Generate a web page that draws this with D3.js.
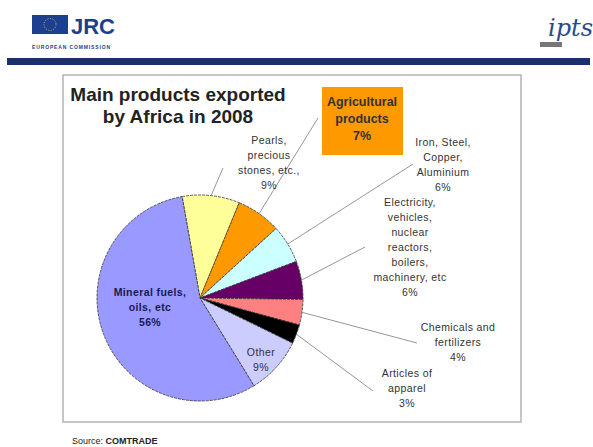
<!DOCTYPE html>
<html>
<head>
<meta charset="utf-8">
<script src="https://cdnjs.cloudflare.com/ajax/libs/d3/7.8.5/d3.min.js"></script>
<style>
  body { margin: 0; background: #ffffff; }
  svg { display: block; font-family: "Liberation Sans", Arial, sans-serif; }
</style>
</head>
<body>
<div id="grafico"></div>
<script>
// dados (clockwise, starting at 12 o'clock)
var categorias = ["Pearls, precious stones, etc.", "Agricultural products", "Iron, Steel, Copper, Aluminium",
                  "Electricity, vehicles, nuclear reactors, boilers, machinery, etc", "Chemicals and fertilizers",
                  "Articles of apparel", "Other", "Mineral fuels, oils, etc"];
var percentuais = [9, 7, 6, 6, 4, 3, 9, 56];
var rotulos = [
  ["Pearls,", "precious", "stones, etc.,", "9%"],
  ["Agricultural", "products", "7%"],
  ["Iron, Steel,", "Copper,", "Aluminium", "6%"],
  ["Electricity,", "vehicles,", "nuclear", "reactors,", "boilers,", "machinery, etc", "6%"],
  ["Chemicals and", "fertilizers", "4%"],
  ["Articles of", "apparel", "3%"],
  ["Other", "9%"],
  ["Mineral fuels,", "oils, etc", "56%"]
];
var cores = ["#ffff99", "#ff9900", "#ccffff", "#660066", "#ff8080", "#000000", "#ccccff", "#9999ff"];
var titulo = ["Main products exported", "by Africa in 2008"];
var fonte = "COMTRADE";

// layout dos rotulos: [x centro, y primeira linha, x da linha guia, y da linha guia]
var layout_rotulos = [
  [269, 144, 223, 168],
  [362, 106, 318, 118],
  [443, 146, 413, 164],
  [410, 206, 365, 247],
  [458, 331, 417, 343],
  [407, 377, 373, 391],
  [261, 356, null, null],
  [150, 296, null, null]
];

var width = 593;
var height = 447;
var cx = 200, cy = 298, raio = 103;

var svg = d3.select("#grafico")
            .append("svg")
            .attr("width", width)
            .attr("height", height);

// cabecalho
svg.append("rect")
   .attr("x", 32).attr("y", 15)
   .attr("width", 36).attr("height", 19)
   .style("fill", "#1d3f8f");

svg.append("circle")
   .attr("cx", 50).attr("cy", 24.5).attr("r", 6)
   .style("fill", "none")
   .style("stroke", "#e8d35a")
   .style("stroke-width", 0.8)
   .style("stroke-dasharray", "1,1.5");

svg.append("text")
   .attr("x", 71).attr("y", 34)
   .style("font-size", "22px")
   .style("font-weight", "bold")
   .style("fill", "#1d3f8f")
   .text("JRC");

svg.append("text")
   .attr("x", 32).attr("y", 49)
   .attr("textLength", 78)
   .style("font-size", "5px")
   .style("font-weight", "bold")
   .style("fill", "#1d3f8f")
   .text("EUROPEAN COMMISSION");

svg.append("rect")
   .attr("x", 7).attr("y", 58)
   .attr("width", 583).attr("height", 7)
   .style("fill", "#1b2f70");

svg.append("text")
   .attr("x", 548).attr("y", 36)
   .style("font-family", "'DejaVu Serif', serif")
   .style("font-style", "italic")
   .style("font-size", "24px")
   .style("fill", "#2a4a8a")
   .text("ipts");

svg.append("rect")
   .attr("x", 540).attr("y", 42)
   .attr("width", 22).attr("height", 5)
   .style("fill", "#777777");

// caixa do grafico
svg.append("rect")
   .attr("x", 63).attr("y", 75)
   .attr("width", 458).attr("height", 347)
   .style("fill", "#ffffff")
   .style("stroke", "#b3b3b3")
   .style("stroke-width", 1.5);

svg.append("text")
   .attr("x", 178).attr("y", 101)
   .attr("text-anchor", "middle")
   .style("font-size", "19px")
   .style("font-weight", "bold")
   .style("fill", "#222222")
   .selectAll("tspan")
   .data(titulo)
   .enter()
   .append("tspan")
   .attr("x", 178)
   .attr("dy", function(d, i){ return i == 0 ? 0 : 22; })
   .text(function(d){ return d; });

// pizza
var pie = d3.pie()
            .sort(null)
            .startAngle(-10 * Math.PI / 180)
            .endAngle(350 * Math.PI / 180);

var arcos = pie(percentuais);

var arc = d3.arc()
            .innerRadius(0)
            .outerRadius(raio);

var borda = d3.arc()
              .innerRadius(raio)
              .outerRadius(raio);

var g = svg.append("g")
           .attr("transform", "translate(" + cx + "," + cy + ")");

g.selectAll("path")
 .data(arcos)
 .enter()
 .append("path")
 .attr("d", arc)
 .style("fill", function(d, i){ return cores[i]; })
 .style("stroke", "#333333")
 .style("stroke-width", 0.8)
 .style("stroke-dasharray", "3,1");

// linhas guia
g.selectAll("line.guia")
 .data(arcos.filter(function(d, i){ return layout_rotulos[i][2] != null; }))
 .enter()
 .append("line")
 .attr("class", "guia")
 .attr("x1", function(d){ return borda.centroid(d)[0]; })
 .attr("y1", function(d){ return borda.centroid(d)[1]; })
 .attr("x2", function(d){ return layout_rotulos[d.index][2] - cx; })
 .attr("y2", function(d){ return layout_rotulos[d.index][3] - cy; })
 .style("stroke", "#8a8a8a")
 .style("stroke-width", 0.9);

// caixa laranja dos produtos agricolas
svg.append("rect")
   .attr("x", 322).attr("y", 87)
   .attr("width", 81).attr("height", 68)
   .style("fill", cores[1]);

// rotulos
rotulos.forEach(function(linhas, i){
    var pos = layout_rotulos[i];
    var destaque = (i == 1 || i == 7);
    var t = svg.append("text")
               .attr("x", pos[0]).attr("y", pos[1])
               .attr("text-anchor", "middle")
               .style("font-size", i == 1 ? "12.5px" : "10.5px")
               .style("font-weight", destaque ? "bold" : "normal")
               .style("letter-spacing", i == 1 ? "0px" : "0.4px")
               .style("fill", i == 7 ? "#1a1a55" : "#333333");

    t.selectAll("tspan")
     .data(linhas)
     .enter()
     .append("tspan")
     .attr("x", pos[0])
     .attr("dy", function(d, j){ return j == 0 ? 0 : (i == 1 ? 17 : 15); })
     .text(function(d){ return d; });
});

// fonte
var src = svg.append("text")
             .attr("x", 72).attr("y", 444)
             .style("font-size", "9px")
             .style("fill", "#222222");
src.append("tspan").text("Source: ");
src.append("tspan").style("font-weight", "bold").text(fonte);
</script>
</body>
</html>
